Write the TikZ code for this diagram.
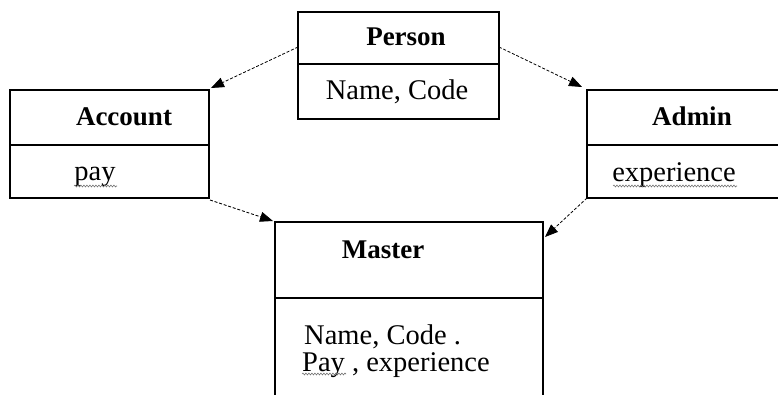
\documentclass[tikz,border=0pt]{standalone}
\usepackage{fontspec}
\setmainfont{Liberation Serif}
\usetikzlibrary{arrows.meta,decorations.pathmorphing}
\begin{document}
\begin{tikzpicture}[x=1pt,y=-1pt,
  classbox/.style={draw=black,line width=1.2pt,inner sep=0pt,outer sep=0pt,anchor=north west},
  divider/.style={draw=black,line width=1.2pt},
  title/.style={font=\fontsize{27}{29}\selectfont\bfseries,anchor=base,inner sep=0pt},
  attr/.style={font=\fontsize{28.5}{31}\selectfont,anchor=base,inner sep=0pt},
  attrleft/.style={font=\fontsize{28.5}{31}\selectfont,anchor=base west,inner sep=0pt},
  link/.style={draw=black,line width=0.8pt,dash pattern=on 3pt off 1.8pt,-{Triangle[length=13pt,width=10pt]}},
  squiggle/.style={draw=black!55,line width=0.6pt,decorate,decoration={snake,amplitude=0.9pt,segment length=3pt}}]
\useasboundingbox (0,0) rectangle (778,394);
\clip (0,0) rectangle (778,394);

% class boxes
\node[classbox,minimum width=201pt,minimum height=107pt] (person) at (298,12) {};
\node[classbox,minimum width=199pt,minimum height=108pt] (account) at (10,90) {};
\node[classbox,minimum width=200pt,minimum height=108pt] (admin) at (587,90) {};
\node[classbox,minimum width=268pt,minimum height=180pt] (master) at (275,222) {};

% compartment dividers
\draw[divider] ([yshift=-52pt]person.north west) -- ([yshift=-52pt]person.north east);
\draw[divider] ([yshift=-55pt]account.north west) -- ([yshift=-55pt]account.north east);
\draw[divider] ([yshift=-55pt]admin.north west) -- ([yshift=-55pt]admin.north east);
\draw[divider] ([yshift=-76pt]master.north west) -- ([yshift=-76pt]master.north east);

% class names
\node[title] (personname) at (406,45) {Person};
\node[title] (accountname) at (124,125) {Account};
\node[title] (adminname) at (692,125) {Admin};
\node[title] (mastername) at (383,258) {Master};

% attributes
\node[attr] (personattr) at (397,99) {Name, Code};
\node[attr] (accountattr) at (95,180) {pay};
\node[attr] (adminattr) at (674,181) {experience};
\node[attrleft] (masterattr1) at (304,344) {Name, Code .};
\node[attrleft] (masterattr2) at (302,371) {Pay , experience};

% spell-check underlines
\draw[squiggle] (74,186) -- (117,186);
\draw[squiggle] (613,186) -- (737,186);
\draw[squiggle] (302,374) -- (346,374);

% inheritance links
\draw[link] ([yshift=-35pt]person.north west) -- ([shift={(2pt,2pt)}]account.north east);
\draw[link] ([yshift=-35pt]person.north east) -- ([shift={(-5pt,3pt)}]admin.north west);
\draw[link] ([shift={(1pt,-2pt)}]account.south east) -- ([shift={(-2pt,1pt)}]master.north west);
\draw[link] (admin.south west) -- ([shift={(2pt,-15pt)}]master.north east);
\end{tikzpicture}
\end{document}
